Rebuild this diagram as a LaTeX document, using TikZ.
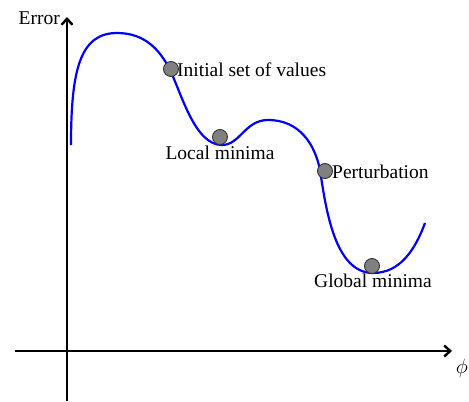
\documentclass[tikz,border=0pt]{standalone}
\usepackage{fontspec}
\setmainfont{Liberation Serif}
\usetikzlibrary{arrows.meta}
\tikzset{
  axis/.style={line width=2.8pt, -{Straight Barb[length=6pt,width=11pt,line width=2.4pt]}},
  curve/.style={blue, line width=2.2pt},
  ball/.style={circle, draw=black!80, fill=black!50, line width=0.9pt, minimum size=15pt, inner sep=0pt},
  lbl/.style={font=\fontsize{19.5}{22}\selectfont, inner sep=0pt, text=black}
}
\begin{document}
\begin{tikzpicture}[x=1pt,y=-1pt]
\useasboundingbox (0,0) rectangle (469,402);
% axes
\coordinate (ybot) at (67,401);
\coordinate (ytop) at (67,17);
\coordinate (xl) at (15,351);
\coordinate (xr) at (452,351);
\draw[axis] (ybot) -- (ytop);
\draw[axis] (xl) -- (xr);
\node[lbl, anchor=east] (err) at (60,18) {Error};
\node[lbl, anchor=center] (phi) at (462,368) {$\phi$};
% curve
\draw[curve] (71,145) .. controls (71,70) and (80,33) .. (117,33)
  .. controls (145,33) and (160,50) .. (170,70)
  .. controls (182,95) and (195,145) .. (222,145)
  .. controls (240,145) and (245,120) .. (268,120)
  .. controls (300,120) and (315,145) .. (320,170)
  .. controls (326,210) and (335,273) .. (373,273)
  .. controls (400,273) and (415,250) .. (425,223);
% balls
\node[ball] (b1) at (171,69) {};
\node[ball] (b2) at (220,137) {};
\node[ball] (b3) at (325,171) {};
\node[ball] (b4) at (372,266) {};
% labels
\node[lbl, anchor=west] (l1) at (177,70) {Initial set of values};
\node[lbl, anchor=center] (l2) at (220,153) {Local minima};
\node[lbl, anchor=west] (l3) at (332,172) {Perturbation};
\node[lbl, anchor=center] (l4) at (373,281) {Global minima};
\end{tikzpicture}
\end{document}
